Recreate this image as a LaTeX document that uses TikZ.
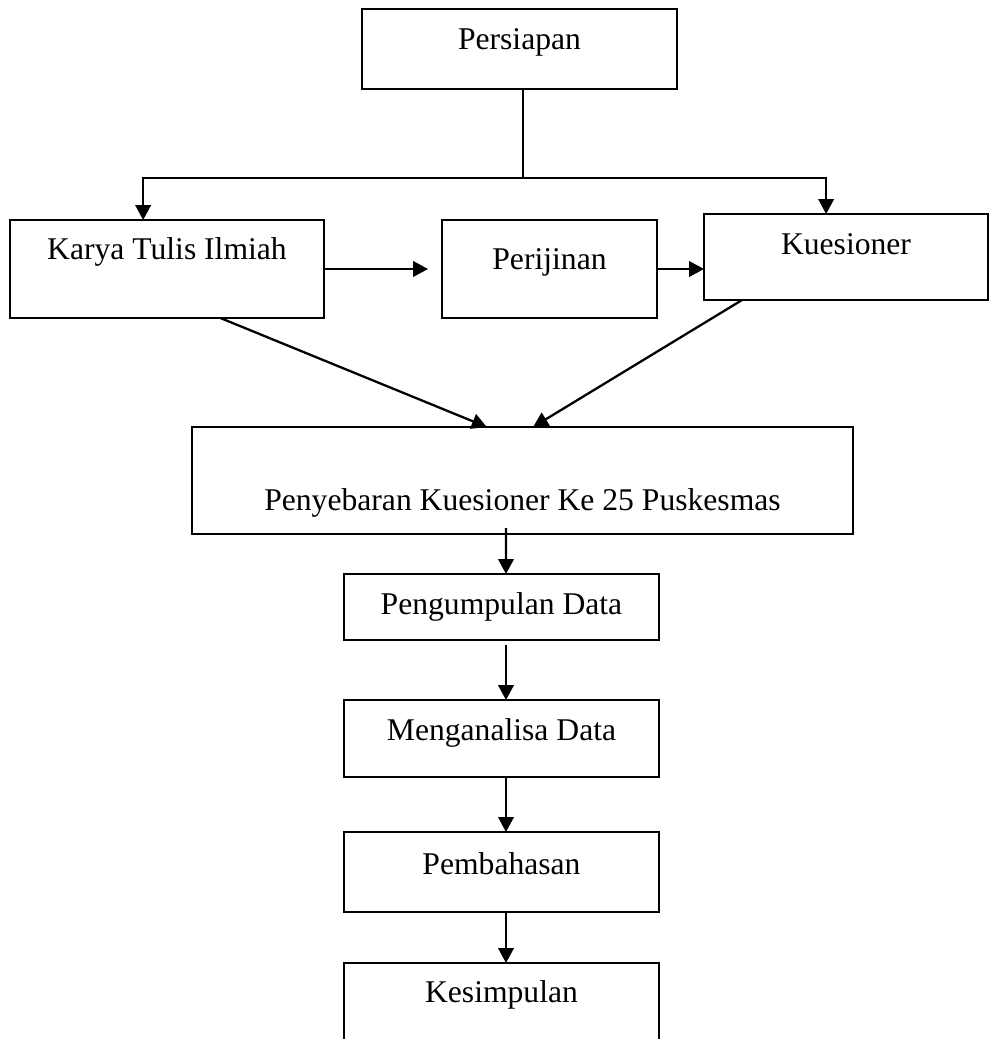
\documentclass[tikz,border=0pt]{standalone}
\usepackage{fontspec}
\setmainfont{Liberation Serif}
\usetikzlibrary{arrows.meta,calc}

\begin{document}
\begin{tikzpicture}[x=0.02cm,y=-0.02cm,
                        line width=1.3pt,
        box/.style={rectangle, draw, inner sep=0pt, outer sep=0pt,
                        font=\fontsize{18}{22}\selectfont,
                        text height=12.6pt, text depth=4pt},
        arr/.style={-{Triangle[length=8.5pt,width=8.8pt]}}]
    \useasboundingbox (0,0) rectangle (990,1039);
    \clip (0,0) rectangle (990,1039);
    \node[box, minimum width=6.3cm, minimum height=1.6cm, text depth=12pt]
        (persiapan) at (519.5,49) {Persiapan};
    \node[box, minimum width=6.28cm, minimum height=1.96cm, text depth=23.4pt]
        (karya) at (167,269) {Karya Tulis Ilmiah};
    \node[box, minimum width=4.3cm, minimum height=1.96cm, text depth=12pt]
        (izin) at (549.5,269) {Perijinan};
    \node[box, minimum width=5.68cm, minimum height=1.72cm, text depth=15.4pt]
        (kuesioner) at (846,257) {Kuesioner};
    \node[box, minimum width=13.22cm, minimum height=2.14cm, text height=37.7pt]
        (sebar) at (522.5,480.5) {Penyebaran Kuesioner Ke 25 Puskesmas};
    \node[box, minimum width=6.3cm, minimum height=1.32cm]
        (kumpul) at (501.5,607) {Pengumpulan Data};
    \node[box, minimum width=6.3cm, minimum height=1.54cm, text depth=10.8pt]
        (analisa) at (501.5,738.5) {Menganalisa Data};
    \node[box, minimum width=6.3cm, minimum height=1.6cm, text depth=9.7pt]
        (bahas) at (501.5,872) {Pembahasan};
    \node[box, minimum width=6.3cm, minimum height=1.64cm, text depth=14pt]
        (simpul) at (501.5,1004) {Kesimpulan};

    \coordinate (tee) at (523,178);
    \draw (tee |- persiapan.south) -- (tee);
    \draw[arr] (tee) -| ($(karya.north west)!0.424!(karya.north east)$);
    \draw[arr] (tee) -| ($(kuesioner.north west)!0.43!(kuesioner.north east)$);
    \draw[arr] (karya.east) -- ([xshift=-0.28cm]izin.west);
    \draw[arr] (izin.east) -- (izin.east -| kuesioner.west);
    \draw[arr] ($(karya.south west)!0.67!(karya.south east)$)
        -- ($(sebar.north west)!0.446!(sebar.north east)$);
    \draw[arr] ($(kuesioner.south west)!0.134!(kuesioner.south east)$)
        -- ($(sebar.north west)!0.516!(sebar.north east)$);
    \draw[arr] ([xshift=-0.33cm,yshift=0.12cm]sebar.south)
        -- ([xshift=0.09cm]kumpul.north);
    \draw[arr] ([xshift=0.09cm,yshift=-0.1cm]kumpul.south)
        -- ([xshift=0.09cm]analisa.north);
    \draw[arr] ([xshift=0.09cm]analisa.south) -- ([xshift=0.09cm]bahas.north);
    \draw[arr] ([xshift=0.09cm]bahas.south) -- ([xshift=0.09cm]simpul.north);
\end{tikzpicture}
\end{document}
